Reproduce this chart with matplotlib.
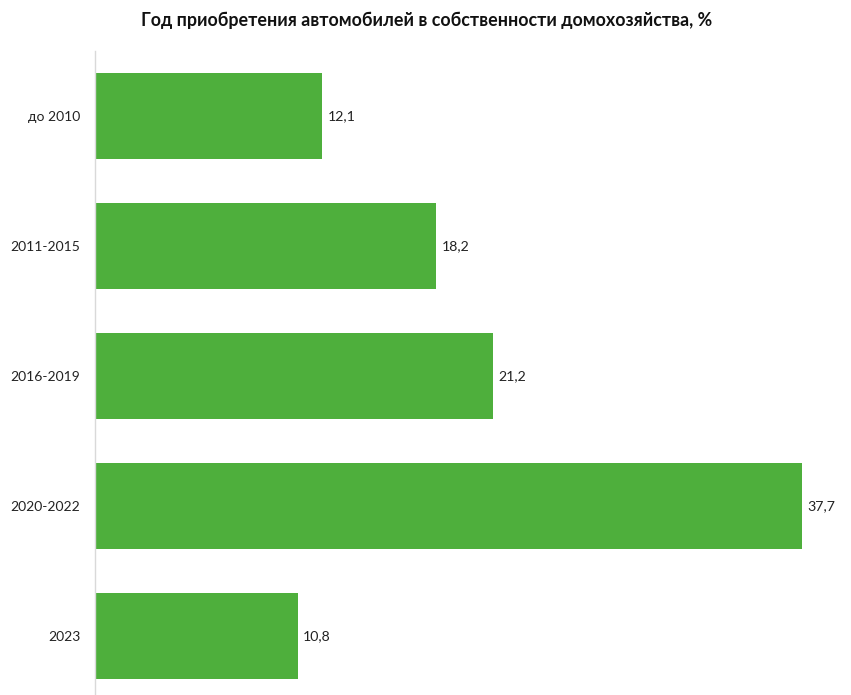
import matplotlib
matplotlib.use("Agg")
import matplotlib.pyplot as plt

categories = ["до 2010", "2011-2015", "2016-2019", "2020-2022", "2023"]
values = [12.1, 18.2, 21.2, 37.7, 10.8]
title = "Год приобретения автомобилей в собственности домохозяйства, %"

plt.rcParams['font.family'] = ['Lato', 'DejaVu Sans']

W, H = 851, 695
fig = plt.figure(figsize=(W / 100, H / 100), dpi=100)
left, right = 95, 840
top, bottom = 51, 701
ax = fig.add_axes([left / W, (H - bottom) / H, (right - left) / W, (bottom - top) / H])

ypos = list(range(len(categories)))
ax.barh(ypos, values, height=0.66, color="#4EAF3C", zorder=2)
ax.set_ylim(len(categories) - 0.5, -0.5)
ax.set_xlim(0, (right - left) / 18.75)
ax.set_yticks(ypos)
ax.set_yticklabels(categories, fontsize=10, color="#222222")
ax.tick_params(axis='y', length=0, pad=10.5)
ax.set_xticks([])
for s in ["top", "right", "bottom"]:
    ax.spines[s].set_visible(False)
ax.spines["left"].set_color("#D9D9D9")
ax.spines["left"].set_linewidth(1)

for y, v in zip(ypos, values):
    ax.text(v + 0.3, y, f"{v:.1f}".replace(".", ","), va="center", ha="left",
            fontsize=10.2, color="#222222")

fig.text(427 / W, 1 - 20 / H, title, ha="center", va="center",
         fontsize=12.9, fontweight="bold", color="#111111")

fig.savefig("out.png", dpi=100)
